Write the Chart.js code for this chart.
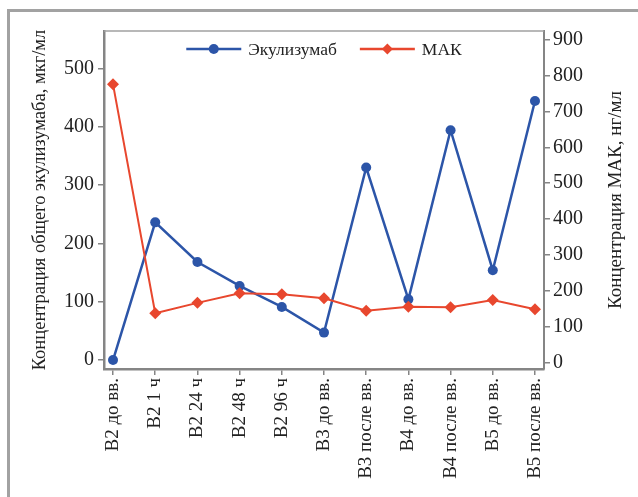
<!DOCTYPE html>
<html>
<head>
<meta charset="utf-8">
<script src="https://cdn.jsdelivr.net/npm/chart.js@4.4.1/dist/chart.umd.min.js"></script>
<style>
html, body { margin: 0; padding: 0; background: #fff; overflow: hidden; }
#frame { position: absolute; left: 7px; top: 9px; width: 700px; height: 600px;
         border-left: 3px solid #a2a2a2; border-top: 3px solid #a2a2a2; }
#wrap { position: absolute; left: 0; top: 0; width: 638px; height: 497px; }
</style>
</head>
<body>
<div id="frame"></div>
<div id="wrap"><canvas id="chart"></canvas></div>
<script>
const visits = ['В2 до вв.', 'В2 1 ч', 'В2 24 ч', 'В2 48 ч', 'В2 96 ч', 'В3 до вв.',
                'В3 после вв.', 'В4 до вв.', 'В4 после вв.', 'В5 до вв.', 'В5 после вв.'];
const eculizumab = [0, 236, 168, 127, 91, 47, 330, 104, 394, 154, 444];
const mak = [776, 137, 166, 193, 190, 179, 144, 155, 154, 174, 148];
const leftTicks = [0, 100, 200, 300, 400, 500];
const rightTicks = [0, 100, 200, 300, 400, 500, 600, 700, 800, 900];

const FONT = '"Liberation Serif", "Times New Roman", serif';
const BLUE = '#2c55a8';
const RED = '#e8472e';
const AXIS = '#858585';

// legend inside the plot + right axis title (reads bottom to top)
const decor = {
    id: 'decor',
    beforeDatasetsDraw(chart) {
        const { ctx, chartArea: a } = chart;
        ctx.save();
        ctx.strokeStyle = '#a0a0a0';
        ctx.lineWidth = 1.5;
        ctx.beginPath();
        ctx.moveTo(a.left, a.top);
        ctx.lineTo(a.right, a.top);
        ctx.stroke();
        ctx.restore();
    },
    afterDatasetsDraw(chart) {
        const { ctx, chartArea: a } = chart;
        ctx.save();
        ctx.font = '17.5px ' + FONT;
        const lineW = 55, textGap = 7, gap = 23;
        const items = chart.data.datasets.map(ds => ({
            ds, w: lineW + textGap + ctx.measureText(ds.label).width
        }));
        const total = items.reduce((s, it) => s + it.w, 0) + gap * (items.length - 1);
        let x = (a.left + a.right) / 2 - total / 2;
        const y = a.top + 18;
        items.forEach(it => {
            const ds = it.ds;
            ctx.strokeStyle = ds.borderColor;
            ctx.lineWidth = 2.5;
            ctx.beginPath();
            ctx.moveTo(x, y);
            ctx.lineTo(x + lineW, y);
            ctx.stroke();
            const cx = x + lineW / 2, r = 5.5;
            ctx.fillStyle = ds.borderColor;
            ctx.beginPath();
            if (ds.pointStyle === 'rectRot') {
                ctx.moveTo(cx, y - r); ctx.lineTo(cx + r, y); ctx.lineTo(cx, y + r); ctx.lineTo(cx - r, y);
                ctx.closePath();
            } else {
                ctx.arc(cx, y, r - 0.5, 0, Math.PI * 2);
            }
            ctx.fill();
            ctx.fillStyle = '#222';
            ctx.textBaseline = 'middle';
            ctx.textAlign = 'left';
            ctx.fillText(ds.label, x + lineW + textGap, y + 1);
            x += it.w + gap;
        });

        ctx.font = '19px ' + FONT;
        ctx.translate(616, (a.top + a.bottom) / 2);
        ctx.rotate(-Math.PI / 2);
        ctx.textAlign = 'center';
        ctx.fillText('Концентрация МАК, нг/мл', 0, 0);
        ctx.restore();
    }
};

new Chart(document.getElementById('chart'), {
    type: 'line',
    data: {
        datasets: [{
            label: 'Экулизумаб',
            data: eculizumab.map((v, i) => ({ x: i, y: v })),
            yAxisID: 'y',
            borderColor: BLUE,
            backgroundColor: BLUE,
            borderWidth: 2.5,
            pointStyle: 'circle',
            pointRadius: 5,
            pointBorderWidth: 0,
            order: 2
        }, {
            label: 'МАК',
            data: mak.map((v, i) => ({ x: i, y: v })),
            yAxisID: 'y2',
            borderColor: RED,
            backgroundColor: RED,
            borderWidth: 2,
            pointStyle: 'rectRot',
            pointRadius: 6,
            pointBorderWidth: 0,
            order: 1
        }]
    },
    options: {
        responsive: true,
        maintainAspectRatio: false,
        animation: false,
        layout: { padding: { left: 27, right: 10, top: 31, bottom: 0 } },
        plugins: { legend: { display: false }, tooltip: { enabled: false } },
        scales: {
            x: {
                type: 'linear',
                min: -0.214,
                max: 10.214,
                afterBuildTicks: s => { s.ticks = visits.map((c, i) => ({ value: i })); },
                afterFit: s => { s.height = 128; },
                border: { color: AXIS, width: 2.5 },
                grid: { drawOnChartArea: false, tickLength: 6, color: AXIS, lineWidth: 1.5 },
                ticks: {
                    autoSkip: false,
                    minRotation: 90,
                    maxRotation: 90,
                    padding: 3,
                    color: '#222',
                    font: { family: FONT, size: 19 },
                    callback: v => visits[v]
                }
            },
            y: {
                position: 'left',
                min: -15.4,
                max: 564,
                afterBuildTicks: s => { s.ticks = leftTicks.map(v => ({ value: v })); },
                afterFit: s => { s.width = 77; },
                border: { color: AXIS, width: 2.5 },
                grid: { drawOnChartArea: false, tickLength: 6, color: AXIS, lineWidth: 1.5 },
                ticks: { padding: 4, color: '#222', font: { family: FONT, size: 20 } },
                title: {
                    display: true,
                    text: 'Концентрация общего экулизумаба, мкг/мл',
                    color: '#222',
                    font: { family: FONT, size: 18.5 },
                    padding: { top: 2, bottom: 2 }
                }
            },
            y2: {
                position: 'right',
                min: -18.7,
                max: 925,
                afterBuildTicks: s => { s.ticks = rightTicks.map(v => ({ value: v })); },
                afterFit: s => { s.width = 84; },
                border: { color: AXIS, width: 2 },
                grid: { drawOnChartArea: false, tickLength: 6, color: AXIS, lineWidth: 1.5 },
                ticks: { padding: 3, color: '#222', font: { family: FONT, size: 20 } }
            }
        }
    },
    plugins: [decor]
});
</script>
</body>
</html>
